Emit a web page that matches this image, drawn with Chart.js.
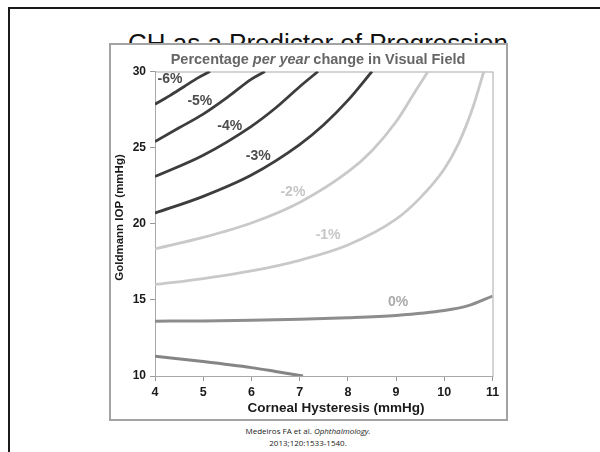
<!DOCTYPE html>
<html>
<head>
<meta charset="utf-8">
<script src="https://cdn.jsdelivr.net/npm/chart.js@4.4.0/dist/chart.umd.min.js"></script>
<style>
  body { margin: 0; background: #fff; }
  #slide { position: relative; width: 600px; height: 452px; overflow: hidden; font-family: "Liberation Sans", Arial, sans-serif; }
  #edge { position: absolute; left: 8px; top: 7px; width: 620px; height: 470px; border-left: 2px solid #1a1a1a; border-top: 2px solid #1a1a1a; }
  #heading { position: absolute; left: 118px; top: 30px; width: 400px; text-align: center; font-size: 26px; line-height: 26px; white-space: nowrap; color: #111; }
  #frame { position: absolute; left: 109px; top: 43px; width: 395px; height: 374px; border: 2px solid #a3a3a3; background: #fff; }
  #cite { position: absolute; left: 208px; top: 425px; width: 200px; text-align: center; font-family: "Open Sans", sans-serif; font-size: 8px; line-height: 12px; color: #222; }
</style>
</head>
<body>
<div id="slide">
  <div id="edge"></div>
  <div id="heading">CH as a Predictor of Progression</div>
  <div id="frame"><canvas id="cgChart" width="395" height="374"></canvas></div>
  <div id="cite">Medeiros FA et al. <i>Ophthalmology.</i><br>2013;120:1533-1540.</div>
</div>
<script>
// Corneal hysteresis (x) vs Goldmann IOP (y) for each rate of change curve
const ch_m6 = [4, 4.3, 4.6, 4.9, 5.14];
const iop_m6 = [27.85, 28.4, 29.0, 29.6, 30];
const ch_m5 = [4, 4.5, 5, 5.5, 6, 6.28];
const iop_m5 = [25.4, 26.3, 27.2, 28.3, 29.5, 30];
const ch_m4 = [4, 5, 6, 6.5, 7, 7.38];
const iop_m4 = [23.1, 24.5, 26.4, 27.6, 29.0, 30];
const ch_m3 = [4, 5, 6, 7, 7.5, 8, 8.5];
const iop_m3 = [20.7, 21.8, 23.2, 25.2, 26.5, 28.1, 30];
const ch_m2 = [4, 5, 6, 7, 8, 8.5, 9, 9.4, 9.66];
const iop_m2 = [18.35, 19.1, 20.05, 21.4, 23.4, 24.8, 26.7, 28.7, 30];
const ch_m1 = [4, 5, 6, 7, 8, 9, 9.5, 10, 10.3, 10.6, 10.82];
const iop_m1 = [16.0, 16.4, 16.9, 17.6, 18.6, 20.3, 21.7, 23.6, 25.3, 27.7, 30];
const ch_0 = [4, 5, 6, 7, 8, 9, 10, 10.5, 11];
const iop_0 = [13.6, 13.62, 13.66, 13.72, 13.82, 13.98, 14.3, 14.62, 15.25];
const ch_p1 = [4, 5, 6, 6.5, 7.07];
const iop_p1 = [11.3, 10.95, 10.55, 10.3, 10.0];

const rateNames = ['-6%', '-5%', '-4%', '-3%', '-2%', '-1%', '0%', '+1%'];
const xTicks = [4, 5, 6, 7, 8, 9, 10, 11];
const yTicks = [10, 15, 20, 25, 30];

// where each rate label sits on the plot (CH, IOP)
const labelCH = [4.31, 4.93, 5.55, 6.14, 6.86, 7.59, 9.04];
const labelIOP = [29.5, 28.05, 26.4, 24.43, 22.07, 19.23, 14.85];

const curveX = [ch_m6, ch_m5, ch_m4, ch_m3, ch_m2, ch_m1, ch_0, ch_p1];
const curveY = [iop_m6, iop_m5, iop_m4, iop_m3, iop_m2, iop_m1, iop_0, iop_p1];
const lineColors = ['#3d3d3d', '#3d3d3d', '#3d3d3d', '#3d3d3d', '#c9c9c9', '#c9c9c9', '#8d8d8d', '#858585'];
const labelColors = ['#4d4d4d', '#4d4d4d', '#4d4d4d', '#4d4d4d', '#c6c6c6', '#c6c6c6', '#ababab'];

const datasets = curveX.map((xs, i) => ({
    label: rateNames[i],
    data: xs.map((v, j) => ({ x: v, y: curveY[i][j] })),
    borderColor: lineColors[i],
    borderWidth: i >= 6 ? 3 : 2.8,
    pointRadius: 0,
    cubicInterpolationMode: 'monotone',
    fill: false
}));

const overlay = {
    id: 'overlay',
    beforeDatasetsDraw(chart) {
        const { ctx, chartArea: a } = chart;
        ctx.save();
        ctx.strokeStyle = '#a9a9a9';
        ctx.lineWidth = 1;
        ctx.strokeRect(a.left + 0.5, a.top + 0.5, a.right - a.left, a.bottom - a.top);
        ctx.restore();
    },
    afterDraw(chart) {
        const { ctx, scales: { x, y } } = chart;
        ctx.save();
        ctx.textBaseline = 'middle';
        ctx.textAlign = 'center';
        // rate labels
        ctx.font = 'bold 14px "Liberation Sans", Arial, sans-serif';
        labelCH.forEach((v, i) => {
            ctx.fillStyle = labelColors[i];
            ctx.fillText(rateNames[i], x.getPixelForValue(v), y.getPixelForValue(labelIOP[i]));
        });
        // chart title with italic part
        const parts = [['Percentage ', 'bold'], ['per year', 'italic bold'], [' change in Visual Field', 'bold']];
        let total = 0;
        parts.forEach(p => { ctx.font = p[1] + ' 14.5px "Liberation Sans", Arial, sans-serif'; total += ctx.measureText(p[0]).width; });
        let tx = 207 - total / 2;
        ctx.textAlign = 'left';
        ctx.fillStyle = '#666';
        parts.forEach(p => {
            ctx.font = p[1] + ' 14.5px "Liberation Sans", Arial, sans-serif';
            ctx.fillText(p[0], tx, 15);
            tx += ctx.measureText(p[0]).width;
        });
        // axis titles
        ctx.textAlign = 'center';
        ctx.fillStyle = '#1a1a1a';
        ctx.font = 'bold 13.5px "Liberation Sans", Arial, sans-serif';
        ctx.fillText('Corneal Hysteresis (mmHg)', 225, 363);
        ctx.translate(9, 172.5);
        ctx.rotate(-Math.PI / 2);
        ctx.font = 'bold 11.5px "Liberation Sans", Arial, sans-serif';
        ctx.fillText('Goldmann IOP (mmHg)', 0, 0);
        ctx.restore();
    }
};

new Chart(document.getElementById('cgChart').getContext('2d'), {
    type: 'line',
    data: { datasets: datasets },
    options: {
        responsive: false,
        animation: false,
        layout: { padding: { top: 26.5, right: 13.5, left: 0, bottom: 0 } },
        plugins: { legend: { display: false }, tooltip: { enabled: false } },
        scales: {
            x: {
                type: 'linear',
                min: xTicks[0],
                max: xTicks[xTicks.length - 1],
                afterBuildTicks: s => { s.ticks = xTicks.map(v => ({ value: v })); },
                afterFit: s => { s.height = 43; },
                grid: { drawOnChartArea: false, drawTicks: true, tickLength: 5, color: '#999' },
                border: { color: '#a9a9a9' },
                ticks: { color: '#1a1a1a', font: { size: 12.5, weight: 'bold', family: '"Liberation Sans", Arial, sans-serif' }, padding: 4, maxRotation: 0 }
            },
            y: {
                type: 'linear',
                min: yTicks[0],
                max: yTicks[yTicks.length - 1],
                afterBuildTicks: s => { s.ticks = yTicks.map(v => ({ value: v })); },
                afterFit: s => { s.width = 44; },
                grid: { drawOnChartArea: false, drawTicks: true, tickLength: 5, color: '#999' },
                border: { color: '#a9a9a9' },
                ticks: { color: '#1a1a1a', font: { size: 12, weight: 'bold', family: '"Liberation Sans", Arial, sans-serif' }, padding: 4 }
            }
        }
    },
    plugins: [overlay]
});
</script>
</body>
</html>
